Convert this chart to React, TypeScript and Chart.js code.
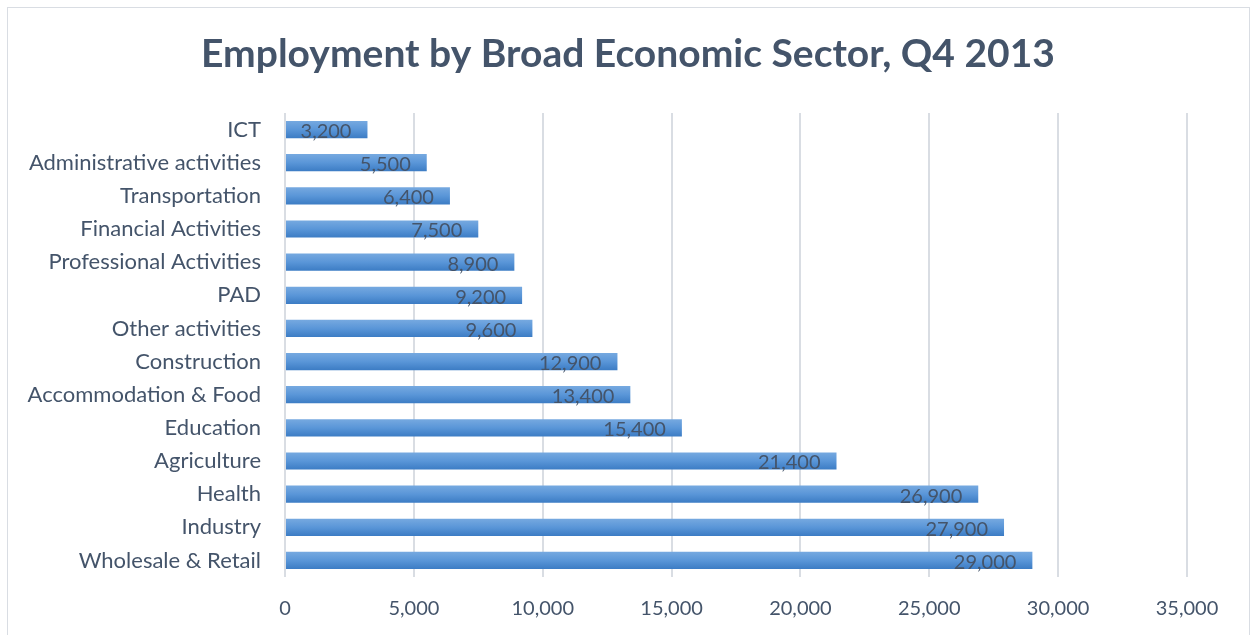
import React, { useEffect, useRef } from "react";
import { Chart, registerables } from "chart.js";

Chart.register(...registerables);

const categories = [
  "ICT",
  "Administrative activities",
  "Transportation",
  "Financial Activities",
  "Professional Activities",
  "PAD",
  "Other activities",
  "Construction",
  "Accommodation & Food",
  "Education",
  "Agriculture",
  "Health",
  "Industry",
  "Wholesale & Retail",
];
const employment = [3200, 5500, 6400, 7500, 8900, 9200, 9600, 12900, 13400, 15400, 21400, 26900, 27900, 29000];
const xTicks = [0, 5000, 10000, 15000, 20000, 25000, 30000, 35000];
const titleText = "Employment by Broad Economic Sector, Q4 2013";

const FONT = "Lato, 'Open Sans', sans-serif";
const TEXT = "#44546A";
const CAT_PCT = 0.8;
const BAR_PCT = 0.65;

const fmt = (v: number) => v.toLocaleString("en-US");

const labelPlugin = {
  id: "barLabels",
  afterDatasetsDraw(chart: any) {
    const ctx = chart.ctx;
    const meta = chart.getDatasetMeta(0);
    ctx.save();
    ctx.font = `20px ${FONT}`;
    ctx.fillStyle = "#44546A";
    ctx.textAlign = "right";
    ctx.textBaseline = "middle";
    meta.data.forEach((el: any, i: number) => {
      ctx.fillText(fmt(employment[i]), el.x - 16, el.y + 2);
    });
    ctx.restore();
  },
};

const titlePlugin = {
  id: "centeredTitle",
  afterDraw(chart: any) {
    const ctx = chart.ctx;
    ctx.save();
    ctx.font = `bold 39px ${FONT}`;
    ctx.fillStyle = TEXT;
    ctx.textAlign = "center";
    ctx.textBaseline = "middle";
    ctx.fillText(titleText, 628, 54);
    ctx.restore();
  },
};

export default function App() {
  const ref = useRef<HTMLCanvasElement | null>(null);
  useEffect(() => {
    document.body.style.margin = "0";
    if (!ref.current) return;
    const chart = new Chart(ref.current, {
      type: "bar",
      data: {
        labels: categories,
        datasets: [
          {
            data: employment,
            categoryPercentage: CAT_PCT,
            barPercentage: BAR_PCT,
            backgroundColor: (c: any) => {
              const ch = c.chart;
              const ys = ch.scales?.y;
              if (!ys || c.dataIndex === undefined) return "#5A96D8";
              const cy = ys.getPixelForValue(c.dataIndex);
              const band = (ys.bottom - ys.top) / categories.length;
              const h = band * CAT_PCT * BAR_PCT;
              if (!isFinite(cy) || !isFinite(h) || h <= 0) return "#5A96D8";
              const g = ch.ctx.createLinearGradient(0, cy - h / 2, 0, cy + h / 2);
              g.addColorStop(0, "#76A9E0");
              g.addColorStop(0.5, "#5A96D8");
              g.addColorStop(1, "#3C7CC4");
              return g;
            },
            borderWidth: 0,
          },
        ],
      },
      options: {
        indexAxis: "y",
        animation: false,
        responsive: false,
        devicePixelRatio: 1,
        layout: { padding: { left: 0, right: 65, top: 113, bottom: 0 } },
        plugins: {
          legend: { display: false },
          tooltip: { enabled: false },
          title: { display: false },
        },
        scales: {
          x: {
            min: 0,
            max: 35000,
            afterBuildTicks: (s: any) => {
              s.ticks = xTicks.map((v) => ({ value: v }));
            },
            afterFit: (s: any) => {
              s.height = 58;
            },
            grid: { color: "#D9DDE3", lineWidth: 2, drawTicks: false },
            border: { display: false },
            ticks: {
              color: TEXT,
              padding: 20,
              font: { family: FONT, size: 20 },
              callback: (v: any) => fmt(Number(v)),
            },
          },
          y: {
            afterFit: (s: any) => {
              s.width = 285;
            },
            grid: { display: false, drawTicks: false },
            border: { display: false },
            ticks: {
              color: TEXT,
              padding: 24,
              font: { family: FONT, size: 22 },
            },
          },
        },
      },
      plugins: [labelPlugin, titlePlugin],
    });
    chart.update();
    return () => chart.destroy();
  }, []);
  return (
    <div style={{ position: "relative", width: 1252, height: 635, overflow: "hidden" }}>
      <canvas ref={ref} width={1252} height={635} style={{ display: "block" }} />
      <div
        style={{
          position: "absolute",
          left: 7,
          top: 7,
          width: 1243,
          height: 640,
          border: "1.5px solid #D9DDE3",
          boxSizing: "border-box",
          pointerEvents: "none",
        }}
      />
    </div>
  );
}
